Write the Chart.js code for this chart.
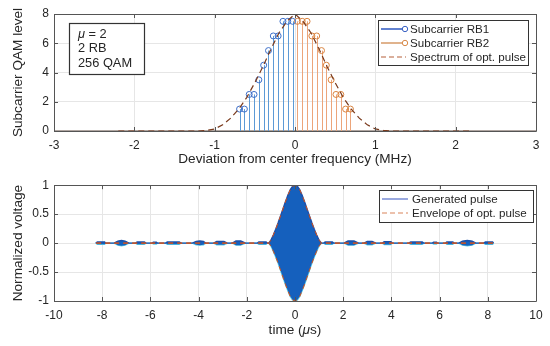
<!DOCTYPE html>
<html>
<head>
<meta charset="utf-8">
<script src="https://cdn.jsdelivr.net/npm/chart.js@4.4.1/dist/chart.umd.min.js"></script>
<style>
  html, body { margin: 0; padding: 0; background: #ffffff; }
  #wrap { position: relative; width: 550px; height: 346px; }
  canvas { position: absolute; left: 0; }
</style>
</head>
<body>
<div id="wrap">
  <canvas id="top" width="550" height="173" style="top:0px"></canvas>
  <canvas id="bot" width="550" height="173" style="top:173px"></canvas>
</div>
<script>
// ---------- Data ----------
const freqRB1  = [-0.69,-0.63,-0.57,-0.51,-0.45,-0.39,-0.33,-0.27,-0.21,-0.15,-0.09,-0.03];
const levelRB1 = [1.5, 1.5, 2.5, 2.5, 3.5, 4.5, 5.5, 6.5, 6.5, 7.5, 7.5, 7.5];
const freqRB2  = [0.03, 0.09, 0.15, 0.21, 0.27, 0.33, 0.39, 0.45, 0.51, 0.57, 0.63, 0.69];
const levelRB2 = [7.5, 7.5, 7.5, 6.5, 6.5, 5.5, 4.5, 3.5, 2.5, 2.5, 1.5, 1.5];

const specFreq  = [-2.2,-1.2,-1.1,-1.0,-0.9,-0.8,-0.7,-0.6,-0.5,-0.4,-0.3,-0.2,-0.1,0,0.1,0.2,0.3,0.4,0.5,0.6,0.7,0.8,0.9,1.0,1.1,1.2,2.2];
const specLevel = [0,0,0.04,0.14,0.42,0.88,1.5,2.3,3.3,4.4,5.6,6.7,7.5,8.0,7.5,6.7,5.6,4.4,3.3,2.3,1.5,0.88,0.42,0.14,0.04,0,0];

const pulseTime = [-8.27,-8.2,-7.9,-7.86,-7.51,-7.35,-7.2,-7.05,-6.89,-6.61,-6.55,-6.25,-6.19,-5.92,-5.88,-5.75,-5.71,
  -5.37,-5.3,-4.8,-4.74,-4.26,-4.1,-3.95,-3.8,-3.71,-3.37,-3.25,-2.95,-2.81,-2.6,-2.45,-2.25,-2.05,-1.56,-1.5,-1.2,-1.15,
  -1.09,-1.0,-0.9,-0.8,-0.7,-0.6,-0.5,-0.4,-0.3,-0.2,-0.1,0,0.1,0.2,0.3,0.4,0.5,0.6,0.7,0.8,0.9,1.0,1.1,
  1.2,1.25,1.55,1.6,2.03,2.2,2.45,2.64,2.86,3.0,3.2,3.35,3.63,3.7,3.98,4.04,4.72,4.8,5.28,5.34,5.7,5.75,5.87,5.91,
  6.25,6.3,6.55,6.6,6.8,6.95,7.15,7.35,7.5,7.83,7.9,8.2,8.24];
const pulseAmp = [0,0.02,0.02,0,0,0.035,0.045,0.035,0,0,0.02,0.02,0,0,0.015,0.015,0,
  0,0.02,0.02,0,0,0.03,0.035,0.03,0,0,0.03,0.03,0,0,0.035,0.035,0,0,0.02,0.02,0,
  0,0.05,0.14,0.24,0.35,0.47,0.59,0.71,0.82,0.92,0.98,1.0,0.98,0.92,0.82,0.71,0.59,0.47,0.35,0.24,0.14,0.05,0,
  0,0.02,0.02,0,0,0.035,0.035,0,0,0.03,0.03,0,0,0.025,0.025,0,0,0.02,0.02,0,0,0.015,0.015,0,
  0,0.02,0.02,0,0,0.035,0.045,0.035,0,0,0.02,0.02,0];

const envTime = [-8.25,-1.1,-1.0,-0.9,-0.8,-0.7,-0.6,-0.5,-0.4,-0.3,-0.2,-0.1,0,0.1,0.2,0.3,0.4,0.5,0.6,0.7,0.8,0.9,1.0,1.1,8.25];
const envAmp  = [0,0,0.05,0.14,0.24,0.35,0.47,0.59,0.71,0.82,0.92,0.98,1.0,0.98,0.92,0.82,0.71,0.59,0.47,0.35,0.24,0.14,0.05,0,0];

const topXTicks = [-3,-2,-1,0,1,2,3];
const topYTicks = [0,2,4,6,8];
const botXTicks = [-10,-8,-6,-4,-2,0,2,4,6,8,10];
const botYTicks = [-1,-0.5,0,0.5,1];

// ---------- Styles ----------
const FONT = '"Liberation Sans", Arial, Helvetica, sans-serif';
const TXT = '#262626';
const BLUE_STEM = '#5c9ad6';
const BLUE_MK = '#3d6fc9';
const ORANGE_STEM = '#eca57a';
const ORANGE_MK = '#d9833f';
const SPEC = '#7a3a1c';
const PULSE_FILL = '#1560bd';
const ENV = '#d95319';

const pts = (xs, ys) => xs.map((x, i) => ({x: x, y: ys[i]}));
const neg = (xs, ys) => xs.map((x, i) => ({x: x, y: -ys[i]}));

// Box + inward ticks
const boxPlugin = {
  id: 'box',
  afterDraw(chart, args, opts) {
    const {ctx, chartArea: a, scales} = chart;
    ctx.save();
    ctx.strokeStyle = '#555555';
    ctx.lineWidth = 1;
    ctx.beginPath();
    ctx.rect(Math.round(a.left) + 0.5, Math.round(a.top) + 0.5, Math.round(a.right - a.left), Math.round(a.bottom - a.top));
    ctx.stroke();
    const L = 4;
    ctx.beginPath();
    opts.xt.forEach(v => {
      const px = Math.round(scales.x.getPixelForValue(v)) + 0.5;
      ctx.moveTo(px, a.bottom); ctx.lineTo(px, a.bottom - L);
      ctx.moveTo(px, a.top); ctx.lineTo(px, a.top + L);
    });
    opts.yt.forEach(v => {
      const py = Math.round(scales.y.getPixelForValue(v)) + 0.5;
      ctx.moveTo(a.left, py); ctx.lineTo(a.left + L, py);
      ctx.moveTo(a.right, py); ctx.lineTo(a.right - L, py);
    });
    ctx.stroke();
    ctx.restore();
  }
};

// Stems from baseline for stem datasets
const stemPlugin = {
  id: 'stems',
  beforeDatasetsDraw(chart) {
    const {ctx, scales, chartArea: a} = chart;
    ctx.save();
    ctx.beginPath();
    ctx.rect(a.left, a.top, a.right - a.left, a.bottom - a.top);
    ctx.clip();
    const y0 = scales.y.getPixelForValue(0);
    ctx.strokeStyle = '#958780';
    ctx.lineWidth = 1.6;
    ctx.beginPath();
    ctx.moveTo(a.left, y0); ctx.lineTo(a.right, y0);
    ctx.stroke();
    chart.data.datasets.forEach(ds => {
      if (!ds.stemColor) return;
      ctx.strokeStyle = ds.stemColor;
      ctx.lineWidth = 1;
      ctx.beginPath();
      ds.data.forEach(p => {
        const px = Math.round(scales.x.getPixelForValue(p.x)) + 0.5;
        ctx.moveTo(px, y0);
        ctx.lineTo(px, scales.y.getPixelForValue(p.y));
      });
      ctx.stroke();
    });
    ctx.restore();
  }
};

function drawText(ctx, parts, x, y, align) {
  let total = 0;
  parts.forEach(p => { ctx.font = (p.italic ? 'italic ' : '') + p.size + 'px ' + FONT; p.w = ctx.measureText(p.t).width; total += p.w; });
  let cx = align === 'center' ? x - total / 2 : x;
  parts.forEach(p => { ctx.font = (p.italic ? 'italic ' : '') + p.size + 'px ' + FONT; ctx.fillText(p.t, cx, y); cx += p.w; });
}

const overlayPlugin = {
  id: 'overlay',
  afterDraw(chart, args, o) {
    const ctx = chart.ctx;
    ctx.save();
    ctx.textBaseline = 'middle';
    const lg = o.legend;
    ctx.fillStyle = '#ffffff';
    ctx.fillRect(lg.x, lg.y, lg.w, lg.h);
    ctx.strokeStyle = '#333333';
    ctx.lineWidth = 1;
    ctx.strokeRect(lg.x + 0.5, lg.y + 0.5, lg.w, lg.h);
    lg.items.forEach((it, i) => {
      const yy = lg.y + lg.first + i * lg.step;
      ctx.strokeStyle = it.color;
      ctx.lineWidth = it.width || 1.5;
      ctx.setLineDash(it.dash || []);
      ctx.beginPath();
      ctx.moveTo(lg.x + 3, yy); ctx.lineTo(lg.x + lg.lineLen, yy);
      ctx.stroke();
      ctx.setLineDash([]);
      if (it.marker) {
        ctx.strokeStyle = it.marker;
        ctx.lineWidth = 1;
        ctx.fillStyle = '#ffffff';
        ctx.beginPath();
        ctx.arc(lg.x + lg.lineLen - 1, yy, 2.7, 0, Math.PI * 2);
        ctx.fill(); ctx.stroke();
      }
      ctx.fillStyle = TXT;
      ctx.font = lg.size + 'px ' + FONT;
      ctx.textAlign = 'left';
      ctx.fillText(it.text, lg.x + lg.textX, yy + 0.5);
    });
    if (o.note) {
      const n = o.note;
      ctx.fillStyle = '#ffffff';
      ctx.fillRect(n.x, n.y, n.w, n.h);
      ctx.strokeStyle = '#333333';
      ctx.strokeRect(n.x + 0.5, n.y + 0.5, n.w, n.h);
      ctx.fillStyle = TXT;
      ctx.textAlign = 'left';
      n.lines.forEach((ln, i) => drawText(ctx, ln, n.x + 9, n.y + 11 + i * 14.7, 'left'));
    }
    ctx.fillStyle = TXT;
    ctx.textAlign = 'left';
    drawText(ctx, o.xtitle, (chart.chartArea.left + chart.chartArea.right) / 2, o.xtitleY, 'center');
    ctx.save();
    ctx.translate(18, (chart.chartArea.top + chart.chartArea.bottom) / 2);
    ctx.rotate(-Math.PI / 2);
    drawText(ctx, o.ytitle, 0, 0, 'center');
    ctx.restore();
    ctx.restore();
  }
};

function axisOpts(min, max, ticks, isX) {
  return {
    type: 'linear',
    min: min, max: max,
    afterBuildTicks: s => { s.ticks = ticks.map(v => ({value: v})); },
    afterFit: s => { if (isX) s.height = s.chart.options.xH; else s.width = 54; },
    grid: { color: '#e6e6e6', lineWidth: 1, drawTicks: false },
    border: { display: false },
    ticks: { color: TXT, font: { family: FONT, size: 12 }, padding: isX ? 7 : 5, maxRotation: 0, autoSkip: false,
             callback: v => String(v) }
  };
}

const TS = 13.6;

// ---------- Top chart ----------
new Chart(document.getElementById('top'), {
  type: 'scatter',
  data: {
    datasets: [
      { label: 'Spectrum of opt. pulse', data: pts(specFreq, specLevel), showLine: true, borderColor: SPEC,
        borderWidth: 1.2, borderDash: [6, 4], pointRadius: 0, order: 0 },
      { label: 'Subcarrier RB1', data: pts(freqRB1, levelRB1), showLine: false, stemColor: BLUE_STEM,
        pointRadius: 3, pointBorderColor: BLUE_MK, pointBackgroundColor: 'rgba(255,255,255,0)', pointBorderWidth: 1, order: 1 },
      { label: 'Subcarrier RB2', data: pts(freqRB2, levelRB2), showLine: false, stemColor: ORANGE_STEM,
        pointRadius: 3, pointBorderColor: ORANGE_MK, pointBackgroundColor: 'rgba(255,255,255,0)', pointBorderWidth: 1, order: 2 }
    ]
  },
  options: {
    responsive: false, animation: false, devicePixelRatio: 1,
    xH: 42,
    layout: { padding: { top: 14, right: 14, left: 0, bottom: 0 } },
    plugins: {
      legend: { display: false }, tooltip: { enabled: false },
      box: { xt: topXTicks, yt: topYTicks },
      overlay: {
        legend: { x: 378, y: 20, w: 150, h: 45, first: 9, step: 14, lineLen: 28, textX: 32, size: 11.6, items: [
          { text: 'Subcarrier RB1', color: '#3a62c4', marker: '#3a62c4', width: 1.6 },
          { text: 'Subcarrier RB2', color: '#d9a070', marker: '#d98a4a', width: 1.6 },
          { text: 'Spectrum of opt. pulse', color: '#b5603a', dash: [5, 3], width: 1.2 }
        ]},
        note: { x: 69, y: 23, w: 75, h: 51, lines: [
          [{t: '\u03bc', italic: true, size: 12.8}, {t: ' = 2', size: 12.8}],
          [{t: '2 RB', size: 12.8}],
          [{t: '256 QAM', size: 12.8}]
        ]},
        xtitle: [{t: 'Deviation from center frequency (MHz)', size: TS}],
        xtitleY: 159,
        ytitle: [{t: 'Subcarrier QAM level', size: TS}]
      }
    },
    scales: { x: axisOpts(-3, 3, topXTicks, true), y: axisOpts(0, 8, topYTicks, false) }
  },
  plugins: [stemPlugin, boxPlugin, overlayPlugin]
});

// ---------- Bottom chart ----------
new Chart(document.getElementById('bot'), {
  type: 'scatter',
  data: {
    datasets: [
      { label: 'Envelope upper', data: pts(envTime, envAmp), showLine: true, borderColor: ENV, borderWidth: 1,
        borderDash: [5, 4], pointRadius: 0, order: 0 },
      { label: 'Envelope lower', data: neg(envTime, envAmp), showLine: true, borderColor: ENV, borderWidth: 1,
        borderDash: [5, 4], pointRadius: 0, order: 0 },
      { label: 'Generated pulse', data: pts(pulseTime, pulseAmp), showLine: true, borderColor: '#1d4fa8',
        borderWidth: 1.4, backgroundColor: PULSE_FILL, fill: '+1', pointRadius: 0, tension: 0, order: 1 },
      { label: 'Generated pulse lower', data: neg(pulseTime, pulseAmp), showLine: true, borderColor: '#5fd0ea',
        borderWidth: 1.4, pointRadius: 0, tension: 0, order: 2 }
    ]
  },
  options: {
    responsive: false, animation: false, devicePixelRatio: 1,
    xH: 45,
    layout: { padding: { top: 11, right: 14, left: 0, bottom: 0 } },
    plugins: {
      legend: { display: false }, tooltip: { enabled: false }, filler: { propagate: false },
      box: { xt: botXTicks, yt: botYTicks },
      overlay: {
        legend: { x: 379, y: 17, w: 154, h: 32, first: 9, step: 14, lineLen: 29, textX: 33, size: 11.6, items: [
          { text: 'Generated pulse', color: '#8fa0dc', width: 1.8 },
          { text: 'Envelope of opt. pulse', color: '#d9835a', dash: [5, 3], width: 1.2 }
        ]},
        xtitle: [{t: 'time (', size: TS}, {t: '\u03bc', italic: true, size: TS}, {t: 's)', size: TS}],
        xtitleY: 157,
        ytitle: [{t: 'Normalized voltage', size: TS}]
      }
    },
    scales: { x: axisOpts(-10, 10, botXTicks, true), y: axisOpts(-1, 1, botYTicks, false) }
  },
  plugins: [boxPlugin, overlayPlugin]
});
</script>
</body>
</html>
